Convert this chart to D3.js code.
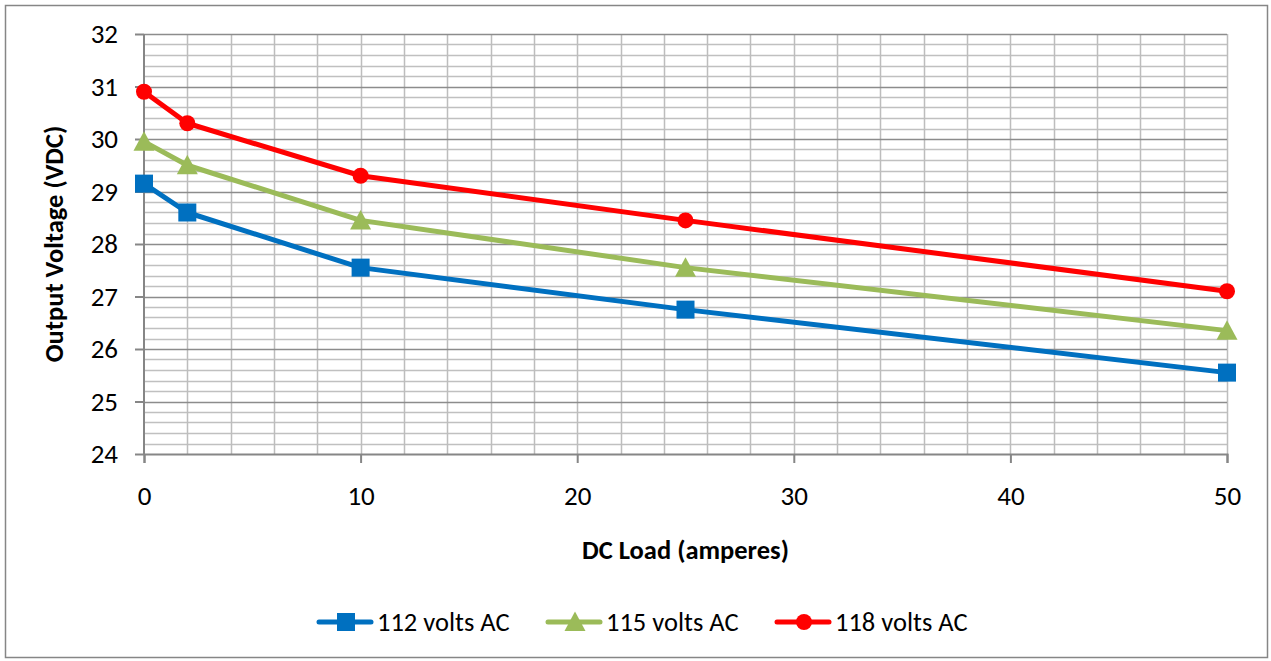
<!DOCTYPE html>
<html>
<head>
<meta charset="utf-8">
<script src="https://cdn.jsdelivr.net/npm/d3@7"></script>
<style>
  body { margin: 0; background: #fff; }
  svg { display: block; font-family: Carlito, Lato, "Open Sans", sans-serif; }
</style>
</head>
<body>
<svg id="chart" width="1271" height="661"></svg>
<script>
// load values
var loads = [0, 2, 10, 25, 50];
var v112 = [29.15, 28.6, 27.55, 26.75, 25.55];
var v115 = [29.95, 29.5, 28.45, 27.55, 26.35];
var v118 = [30.9, 30.3, 29.3, 28.45, 27.1];
var seriesNames = ["112 volts AC", "115 volts AC", "118 volts AC"];
var seriesColors = ["#0070c0", "#9bbb59", "#ff0000"];
var seriesShapes = ["square", "triangle", "circle"];
var xTicks = [0, 10, 20, 30, 40, 50];
var yTicks = [24, 25, 26, 27, 28, 29, 30, 31, 32];

var allSeries = [v112, v115, v118];

var svg = d3.select("#chart");

// outer frame
svg.append("rect")
  .attr("x", 5.5).attr("y", 5.5)
  .attr("width", 1262).attr("height", 652)
  .attr("fill", "#fff").attr("stroke", "#868686").attr("stroke-width", 1.5);

var x = d3.scaleLinear().domain([0, 50]).range([144, 1227]);
var y = d3.scaleLinear().domain([24, 32]).range([454, 34]);

var grid = svg.append("g");

// minor horizontal grid every 0.2
var minorY = d3.range(24, 32.001, 0.2).filter(function(d) { return Math.abs(d - Math.round(d)) > 0.01; });
grid.selectAll("line.hmin").data(minorY).enter().append("line")
  .attr("x1", x(0)).attr("x2", x(50))
  .attr("y1", function(d) { return Math.round(y(d)) + 0.5; })
  .attr("y2", function(d) { return Math.round(y(d)) + 0.5; })
  .attr("stroke", "#c0c0c0").attr("stroke-width", 1.5);

// vertical grid every 2
var minorX = d3.range(2, 50.001, 2);
grid.selectAll("line.v").data(minorX).enter().append("line")
  .attr("y1", y(24)).attr("y2", y(32))
  .attr("x1", function(d) { return Math.round(x(d)) + 0.5; })
  .attr("x2", function(d) { return Math.round(x(d)) + 0.5; })
  .attr("stroke", "#bdbdbd").attr("stroke-width", 1.5);

// major horizontal grid every 1
grid.selectAll("line.hmaj").data(yTicks.slice(1)).enter().append("line")
  .attr("x1", x(0)).attr("x2", x(50))
  .attr("y1", function(d) { return Math.round(y(d)) + 0.5; })
  .attr("y2", function(d) { return Math.round(y(d)) + 0.5; })
  .attr("stroke", "#8c8c8c").attr("stroke-width", 1.5);

// axes
var yAxis = d3.axisLeft(y).tickValues(yTicks).tickSize(9).tickPadding(17).tickFormat(d3.format("d"));
var gy = svg.append("g").attr("transform", "translate(" + x(0) + ",0)").call(yAxis);
var xAxis = d3.axisBottom(x).tickValues(xTicks).tickSize(9).tickPadding(23).tickFormat(d3.format("d"));
var gx = svg.append("g").attr("transform", "translate(0," + y(24) + ")").call(xAxis);
[gx, gy].forEach(function(g) {
  g.select(".domain").attr("stroke", "#868686").attr("stroke-width", 2);
  g.selectAll(".tick line").attr("stroke", "#868686").attr("stroke-width", 2);
  g.selectAll(".tick text").attr("font-size", 27).attr("fill", "#000")
    .style("font-family", "Carlito, Lato, 'Open Sans', sans-serif");
});
gy.select(".domain").attr("d", "M0," + y(32) + "V" + y(24));

// axis titles
svg.append("text")
  .attr("x", (x(0) + x(50)) / 2).attr("y", 559)
  .attr("text-anchor", "middle").attr("font-size", 26.5).attr("font-weight", "bold")
  .text("DC Load (amperes)");
svg.append("text")
  .attr("transform", "translate(63," + (y(28)) + ") rotate(-90)")
  .attr("text-anchor", "middle").attr("font-size", 26.5).attr("font-weight", "bold")
  .text("Output Voltage (VDC)");

function drawMarker(g, shape, color, cx, cy) {
  if (shape === "square") {
    g.append("rect").attr("x", cx - 9).attr("y", cy - 9).attr("width", 18).attr("height", 18).attr("fill", color);
  } else if (shape === "triangle") {
    g.append("path").attr("d", "M" + cx + "," + (cy - 10.5) + "L" + (cx + 10.5) + "," + (cy + 9) + "L" + (cx - 10.5) + "," + (cy + 9) + "Z").attr("fill", color);
  } else {
    g.append("circle").attr("cx", cx).attr("cy", cy).attr("r", 8).attr("fill", color);
  }
}

var line = d3.line().x(function(d) { return x(d[0]); }).y(function(d) { return y(d[1]); });

allSeries.forEach(function(vals, i) {
  var pts = loads.map(function(l, j) { return [l, vals[j]]; });
  var g = svg.append("g");
  g.append("path").datum(pts).attr("d", line)
    .attr("fill", "none").attr("stroke", seriesColors[i]).attr("stroke-width", 5)
    .attr("stroke-linejoin", "round").attr("stroke-linecap", "round");
  pts.forEach(function(p) { drawMarker(g, seriesShapes[i], seriesColors[i], x(p[0]), y(p[1])); });
});

// legend
var legendX = [317, 546, 775];
var legendY = 622;
seriesNames.forEach(function(name, i) {
  var g = svg.append("g");
  g.append("line").attr("x1", legendX[i] + 2).attr("x2", legendX[i] + 54)
    .attr("y1", legendY).attr("y2", legendY)
    .attr("stroke", seriesColors[i]).attr("stroke-width", 5).attr("stroke-linecap", "round");
  drawMarker(g, seriesShapes[i], seriesColors[i], legendX[i] + 29, legendY);
  g.append("text").attr("x", legendX[i] + 60).attr("y", legendY + 9)
    .attr("font-size", 26.5).text(name);
});
</script>
</body>
</html>
